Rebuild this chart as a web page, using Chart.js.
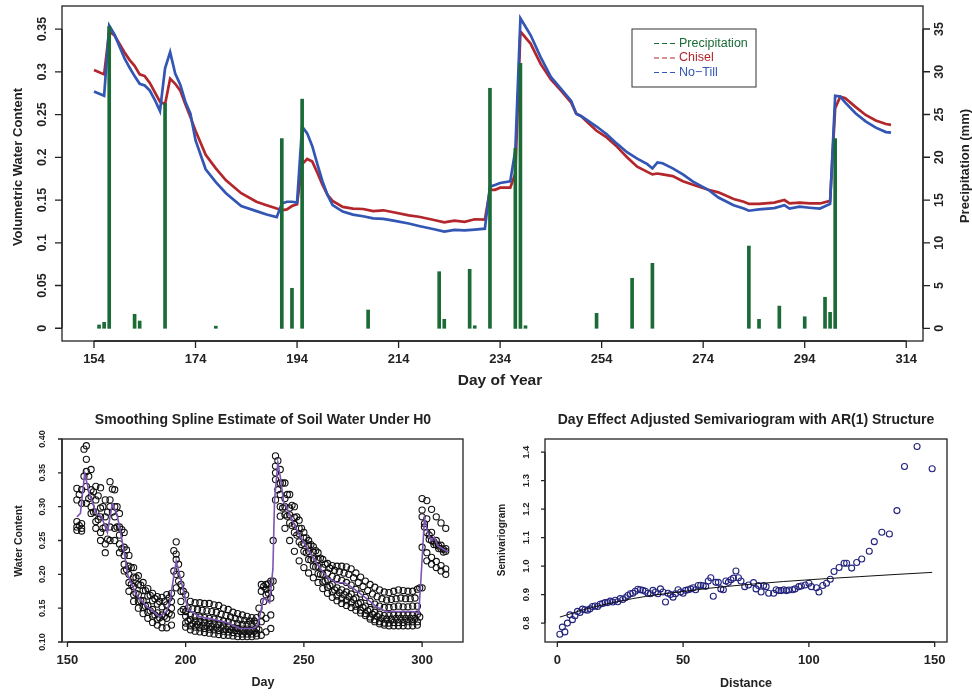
<!DOCTYPE html>
<html>
<head>
<meta charset="utf-8">
<script src="https://cdn.jsdelivr.net/npm/chart.js@4.4.1/dist/chart.umd.min.js"></script>
<style>
  body { margin: 0; background: #fff; }
  #wrap { position: relative; width: 972px; height: 696px; }
  canvas { position: absolute; }
</style>
</head>
<body>
<div id="wrap">
  <canvas id="topChart" width="972" height="395" style="left:0;top:0"></canvas>
  <canvas id="splineChart" width="486" height="301" style="left:0;top:395px"></canvas>
  <canvas id="semiChart" width="486" height="301" style="left:486px;top:395px"></canvas>
</div>
<script>
// ---- top panel: daily water content and rain
const days = [154, 156, 157, 158, 160, 161, 162, 163, 164, 165, 166, 167, 168, 169, 170, 171, 172, 173, 174, 176,
  178, 180, 183, 186, 188, 190, 191, 192, 193, 194, 195, 196, 197, 198, 199, 200, 201, 203, 205, 207,
  209, 211, 213, 216, 218, 221, 223, 225, 227, 229, 231, 232, 233, 234, 236, 237, 238, 240, 242, 244,
  246, 248, 249, 250, 251, 253, 255, 257, 259, 261, 263, 264, 265, 266, 268, 270, 272, 275, 277, 280,
  282, 283, 285, 288, 290, 291, 293, 295, 297, 299, 300, 301, 302, 304, 306, 308, 310, 311];
const chisel = [0.302, 0.297, 0.347, 0.343, 0.323, 0.314, 0.307, 0.297, 0.295, 0.287, 0.276, 0.265, 0.262, 0.292, 0.286, 0.278, 0.262, 0.247, 0.231, 0.203,
  0.187, 0.173, 0.158, 0.148, 0.144, 0.140, 0.138, 0.139, 0.143, 0.145, 0.192, 0.198, 0.195, 0.182, 0.168, 0.156, 0.149, 0.142, 0.140, 0.1395,
  0.137, 0.138, 0.1357, 0.132, 0.1305, 0.1267, 0.124, 0.126, 0.1245, 0.1275, 0.127, 0.162, 0.162, 0.1645, 0.1645, 0.181, 0.347, 0.333, 0.309, 0.291,
  0.278, 0.264, 0.251, 0.248, 0.242, 0.231, 0.2233, 0.2125, 0.200, 0.189, 0.183, 0.180, 0.181, 0.180, 0.178, 0.172, 0.168, 0.162, 0.159, 0.1513,
  0.148, 0.1455, 0.1455, 0.147, 0.150, 0.146, 0.147, 0.146, 0.146, 0.149, 0.2575, 0.271, 0.269, 0.259, 0.2495, 0.243, 0.239, 0.238];
const noTill = [0.277, 0.272, 0.354, 0.344, 0.316, 0.305, 0.295, 0.286, 0.284, 0.278, 0.267, 0.254, 0.304, 0.323, 0.298, 0.285, 0.265, 0.251, 0.220, 0.186,
  0.171, 0.158, 0.143, 0.137, 0.133, 0.130, 0.146, 0.148, 0.148, 0.147, 0.236, 0.228, 0.213, 0.192, 0.172, 0.156, 0.144, 0.1365, 0.133, 0.131,
  0.1285, 0.128, 0.126, 0.1225, 0.1197, 0.1158, 0.113, 0.115, 0.1145, 0.1155, 0.1165, 0.1657, 0.1675, 0.170, 0.172, 0.2086, 0.3626, 0.343, 0.317, 0.294,
  0.280, 0.266, 0.251, 0.248, 0.244, 0.236, 0.227, 0.216, 0.206, 0.1985, 0.192, 0.187, 0.194, 0.193, 0.187, 0.180, 0.1716, 0.162, 0.153, 0.144,
  0.140, 0.1375, 0.139, 0.1405, 0.144, 0.140, 0.1422, 0.141, 0.140, 0.1455, 0.272, 0.271, 0.264, 0.2515, 0.242, 0.2347, 0.2295, 0.2288];
const rainDays = [155, 156, 157, 162, 163, 168, 178, 191, 193, 195, 208, 222, 223, 228, 229, 232, 237, 238, 239, 253,
  260, 264, 283, 285, 289, 294, 298, 299, 300];
const rainMm = [0.39, 0.70, 35.3, 1.64, 0.85, 26.3, 0.25, 22.2, 4.68, 26.8, 2.14, 6.62, 1.05, 6.9, 0.30, 28.07, 21.05, 31.0, 0.30, 1.75,
  5.85, 7.6, 9.62, 1.05, 2.6, 1.35, 3.63, 1.87, 22.2];
const dayTicks = ['154', '174', '194', '214', '234', '254', '274', '294', '314'];
const wcTicks = ['0', '0.05', '0.1', '0.15', '0.2', '0.25', '0.3', '0.35'];
const mmTicks = ['0', '5', '10', '15', '20', '25', '30', '35'];

// ---- bottom left: observations and spline fit
const obsDays = [154, 156, 158, 160, 162, 164, 166, 168, 170, 172, 174, 176, 178, 180, 182, 184, 186, 188, 190, 192,
  194, 196, 198, 200, 202, 204, 206, 208, 210, 212, 214, 216, 218, 220, 222, 224, 226, 228, 230, 232,
  234, 236, 238, 240, 242, 244, 246, 248, 250, 252, 254, 256, 258, 260, 262, 264, 266, 268, 270, 272,
  274, 276, 278, 280, 282, 284, 286, 288, 290, 292, 294, 296, 298, 300, 302, 304, 306, 308, 310];
const obsA = [0.327, 0.325, 0.390, 0.355, 0.330, 0.328, 0.310, 0.337, 0.325, 0.290, 0.262, 0.228, 0.210, 0.198, 0.188, 0.179, 0.172, 0.167, 0.166, 0.170,
  0.172, 0.248, 0.200, 0.170, 0.160, 0.158, 0.158, 0.157, 0.157, 0.155, 0.154, 0.150, 0.148, 0.144, 0.142, 0.140, 0.138, 0.136, 0.136, 0.175,
  0.185, 0.190, 0.375, 0.355, 0.335, 0.318, 0.300, 0.280, 0.262, 0.250, 0.241, 0.232, 0.222, 0.216, 0.213, 0.212, 0.212, 0.211, 0.208, 0.202,
  0.196, 0.190, 0.185, 0.181, 0.177, 0.174, 0.173, 0.175, 0.177, 0.176, 0.175, 0.175, 0.178, 0.312, 0.309, 0.296, 0.285, 0.276, 0.268];
const obsB = [0.310, 0.305, 0.370, 0.325, 0.310, 0.298, 0.285, 0.310, 0.300, 0.270, 0.240, 0.212, 0.196, 0.185, 0.176, 0.168, 0.161, 0.156, 0.152, 0.155,
  0.160, 0.230, 0.185, 0.145, 0.140, 0.138, 0.137, 0.136, 0.135, 0.134, 0.133, 0.131, 0.130, 0.128, 0.127, 0.126, 0.126, 0.126, 0.128, 0.185,
  0.178, 0.180, 0.360, 0.335, 0.312, 0.298, 0.284, 0.268, 0.254, 0.243, 0.233, 0.222, 0.210, 0.202, 0.197, 0.194, 0.191, 0.188, 0.184, 0.178,
  0.171, 0.166, 0.160, 0.156, 0.153, 0.151, 0.151, 0.152, 0.153, 0.152, 0.152, 0.153, 0.153, 0.295, 0.282, 0.262, 0.250, 0.243, 0.238];
const obsC = [0.278, 0.275, 0.352, 0.315, 0.292, 0.285, 0.270, 0.300, 0.285, 0.258, 0.228, 0.200, 0.182, 0.170, 0.161, 0.154, 0.148, 0.143, 0.140, 0.145,
  0.150, 0.222, 0.175, 0.138, 0.133, 0.131, 0.130, 0.129, 0.128, 0.127, 0.126, 0.124, 0.123, 0.121, 0.120, 0.119, 0.119, 0.119, 0.120, 0.140,
  0.170, 0.165, 0.350, 0.318, 0.300, 0.288, 0.274, 0.260, 0.246, 0.234, 0.223, 0.212, 0.200, 0.192, 0.185, 0.180, 0.177, 0.174, 0.171, 0.165,
  0.158, 0.153, 0.148, 0.144, 0.141, 0.139, 0.139, 0.140, 0.140, 0.140, 0.140, 0.140, 0.141, 0.285, 0.262, 0.250, 0.244, 0.238, 0.234];
const obsD = [0.270, 0.268, 0.330, 0.300, 0.278, 0.262, 0.245, 0.270, 0.268, 0.245, 0.215, 0.188, 0.170, 0.160, 0.151, 0.144, 0.138, 0.133, 0.130, 0.135,
  0.140, 0.200, 0.160, 0.128, 0.124, 0.122, 0.121, 0.120, 0.119, 0.118, 0.117, 0.116, 0.115, 0.114, 0.113, 0.112, 0.112, 0.112, 0.113, 0.130,
  0.135, 0.140, 0.340, 0.300, 0.288, 0.276, 0.262, 0.248, 0.234, 0.222, 0.212, 0.201, 0.189, 0.181, 0.174, 0.168, 0.164, 0.161, 0.158, 0.153,
  0.147, 0.142, 0.137, 0.133, 0.130, 0.128, 0.128, 0.129, 0.129, 0.129, 0.130, 0.130, 0.130, 0.240, 0.232, 0.225, 0.219, 0.213, 0.208];
const obsE = [0.265, 0.264, 0.305, 0.290, 0.268, 0.250, 0.232, 0.250, 0.250, 0.232, 0.205, 0.175, 0.160, 0.150, 0.142, 0.135, 0.129, 0.125, 0.121, 0.121,
  0.125, 0.180, 0.145, 0.122, 0.118, 0.116, 0.115, 0.114, 0.113, 0.112, 0.111, 0.110, 0.110, 0.109, 0.108, 0.108, 0.108, 0.108, 0.109, 0.110,
  0.115, 0.120, 0.310, 0.286, 0.268, 0.250, 0.234, 0.220, 0.210, 0.202, 0.195, 0.188, 0.179, 0.172, 0.166, 0.161, 0.157, 0.154, 0.151, 0.147,
  0.143, 0.139, 0.134, 0.130, 0.127, 0.125, 0.124, 0.124, 0.124, 0.124, 0.124, 0.124, 0.125, 0.180, 0.220, 0.215, 0.210, 0.205, 0.200];
const obsDaysOdd = [155, 157, 159, 161, 163, 165, 167, 169, 171, 173, 175, 177, 179, 181, 183, 185, 187, 189, 191, 193,
  195, 197, 199, 201, 203, 205, 207, 209, 211, 213, 215, 217, 219, 221, 223, 225, 227, 229, 231, 233,
  235, 237, 239, 241, 243, 245, 247, 249, 251, 253, 255, 257, 259, 261, 263, 265, 267, 269, 271, 273,
  275, 277, 279, 281, 283, 285, 287, 289, 291, 293, 295, 297, 299, 301, 303, 305, 307, 309];
const obsF = [0.318, 0.385, 0.345, 0.322, 0.316, 0.300, 0.292, 0.326, 0.300, 0.266, 0.236, 0.210, 0.195, 0.184, 0.176, 0.169, 0.164, 0.160, 0.160, 0.165,
  0.235, 0.215, 0.175, 0.150, 0.149, 0.148, 0.147, 0.146, 0.145, 0.144, 0.141, 0.139, 0.137, 0.135, 0.133, 0.132, 0.131, 0.131, 0.150, 0.182,
  0.186, 0.250, 0.368, 0.335, 0.318, 0.302, 0.285, 0.268, 0.254, 0.244, 0.235, 0.224, 0.215, 0.209, 0.206, 0.204, 0.202, 0.200, 0.195, 0.188,
  0.182, 0.176, 0.171, 0.167, 0.164, 0.162, 0.163, 0.164, 0.165, 0.164, 0.164, 0.165, 0.180, 0.275, 0.258, 0.248, 0.242, 0.237];
const obsG = [0.272, 0.345, 0.312, 0.292, 0.281, 0.268, 0.252, 0.292, 0.270, 0.238, 0.207, 0.185, 0.172, 0.161, 0.153, 0.146, 0.140, 0.136, 0.138, 0.142,
  0.205, 0.190, 0.148, 0.131, 0.127, 0.126, 0.125, 0.124, 0.123, 0.122, 0.121, 0.119, 0.118, 0.117, 0.116, 0.115, 0.115, 0.116, 0.118, 0.160,
  0.172, 0.190, 0.325, 0.298, 0.286, 0.272, 0.258, 0.244, 0.232, 0.221, 0.211, 0.200, 0.190, 0.183, 0.177, 0.173, 0.170, 0.167, 0.163, 0.157,
  0.151, 0.146, 0.141, 0.138, 0.135, 0.134, 0.134, 0.135, 0.135, 0.135, 0.135, 0.135, 0.137, 0.270, 0.252, 0.244, 0.238, 0.233];
const splineDays = [154, 155.5, 157.3, 159.4, 162.2, 164.4, 166.9, 169, 171, 173.5, 175.6, 179.1, 183.4, 189, 191.8, 193.2, 196, 198.9, 201, 205.9,
  213, 218, 222.8, 228.4, 230.5, 233, 235.5, 236.9, 237.6, 239, 240.1, 241.4, 243.2, 245.3, 248.1, 252.4, 256.6, 260.1, 263.6, 267.2,
  270.7, 276.3, 280.5, 284.8, 290.4, 296, 298.6, 299.6, 301, 302.4, 303.8, 305.2, 306.6, 311];
const splineVals = [0.285, 0.29, 0.349, 0.318, 0.29, 0.285, 0.262, 0.305, 0.288, 0.243, 0.198, 0.17, 0.153, 0.1375, 0.145, 0.157, 0.22, 0.178, 0.148, 0.1375,
  0.1325, 0.128, 0.12, 0.12, 0.125, 0.165, 0.158, 0.208, 0.31, 0.365, 0.343, 0.308, 0.295, 0.278, 0.258, 0.233, 0.21, 0.195, 0.188, 0.1875,
  0.18, 0.165, 0.1525, 0.145, 0.145, 0.145, 0.1425, 0.198, 0.283, 0.262, 0.25, 0.255, 0.242, 0.233];
const splineXTicks = ['150', '200', '250', '300'];
const splineYTicks = ['0.10', '0.15', '0.20', '0.25', '0.30', '0.35', '0.40'];

// ---- bottom right: semivariogram
const lagDist = [1, 2, 3, 4, 5, 6, 7, 8, 9, 10, 11, 12, 13, 14, 15, 16, 17, 18, 19, 20,
  21, 22, 23, 24, 25, 26, 27, 28, 29, 30, 31, 32, 33, 34, 35, 36, 37, 38, 39, 40,
  41, 42, 43, 44, 45, 46, 47, 48, 49, 50, 51, 52, 53, 54, 55, 56, 57, 58, 59, 60,
  61, 62, 63, 64, 65, 66, 67, 68, 69, 70, 71, 72, 73, 74.5, 76, 78, 79, 80, 81, 82,
  83, 84, 86, 87, 88, 89, 90, 91, 92, 93.5, 94.5, 96, 97, 98.5, 100, 101, 103, 104, 105.5, 107,
  108.5, 110, 112, 114, 115, 117, 119, 121, 124, 126, 129, 132, 135, 138, 143, 149];
const semivar = [0.761, 0.786, 0.769, 0.800, 0.829, 0.812, 0.826, 0.841, 0.837, 0.849, 0.847, 0.845, 0.850, 0.858, 0.860, 0.858, 0.866, 0.869, 0.872, 0.872,
  0.877, 0.874, 0.880, 0.875, 0.886, 0.883, 0.889, 0.897, 0.903, 0.905, 0.912, 0.919, 0.917, 0.915, 0.912, 0.905, 0.903, 0.915, 0.909, 0.903,
  0.920, 0.909, 0.874, 0.905, 0.900, 0.891, 0.903, 0.917, 0.909, 0.905, 0.915, 0.917, 0.920, 0.924, 0.917, 0.932, 0.933, 0.931, 0.929, 0.948,
  0.959, 0.894, 0.943, 0.943, 0.920, 0.917, 0.948, 0.943, 0.952, 0.958, 0.983, 0.959, 0.948, 0.928, 0.934, 0.942, 0.920, 0.932, 0.909, 0.932,
  0.928, 0.905, 0.905, 0.917, 0.914, 0.914, 0.917, 0.914, 0.916, 0.917, 0.920, 0.928, 0.930, 0.934, 0.940, 0.928, 0.924, 0.909, 0.932, 0.940,
  0.954, 0.981, 0.995, 1.010, 1.010, 0.993, 1.013, 1.025, 1.052, 1.086, 1.119, 1.113, 1.195, 1.350, 1.420, 1.342];
const fitDist = [1, 5, 10, 20, 30, 40, 50, 60, 75, 90, 105, 120, 135, 149];
const fitVal = [0.821, 0.832, 0.846, 0.868, 0.886, 0.900, 0.911, 0.922, 0.935, 0.946, 0.955, 0.963, 0.971, 0.978];
const semiXTicks = ['0', '50', '100', '150'];
const semiYTicks = ['0.8', '0.9', '1.0', '1.1', '1.2', '1.3', '1.4'];

const FONT = '"Liberation Sans", Arial, Helvetica, sans-serif';
const INK = '#222';

function pts(xs, ys) {
    return ys.map((y, i) => ({x: xs[i], y: y}));
}

// R-like box, outward ticks, rotated y labels, titles
const rStyle = {
    id: 'rStyle',
    afterDraw(chart, args, o) {
        const ctx = chart.ctx;
        const a = chart.chartArea;
        ctx.save();
        ctx.strokeStyle = INK;
        ctx.fillStyle = INK;
        ctx.lineWidth = 1.3;
        ctx.strokeRect(a.left, a.top, a.right - a.left, a.bottom - a.top);

        o.axes.forEach(ax => {
            const s = chart.scales[ax.id];
            const pos = ax.labels.map(l => s.getPixelForValue(parseFloat(l)));
            ctx.beginPath();
            if (ax.side === 'bottom') {
                ctx.moveTo(pos[0], a.bottom);
                ctx.lineTo(pos[pos.length - 1], a.bottom);
                pos.forEach(p => { ctx.moveTo(p, a.bottom); ctx.lineTo(p, a.bottom + ax.tick); });
            } else {
                const x = ax.side === 'left' ? a.left : a.right;
                const d = ax.side === 'left' ? -ax.tick : ax.tick;
                ctx.moveTo(x, pos[0]);
                ctx.lineTo(x, pos[pos.length - 1]);
                pos.forEach(p => { ctx.moveTo(x, p); ctx.lineTo(x + d, p); });
            }
            ctx.stroke();

            ctx.font = ax.font;
            ctx.textAlign = 'center';
            ctx.textBaseline = 'middle';
            pos.forEach((p, i) => {
                if (ax.side === 'bottom') {
                    ctx.fillText(ax.labels[i], p, a.bottom + ax.gap);
                } else {
                    const x = ax.side === 'left' ? a.left - ax.gap : a.right + ax.gap;
                    ctx.save();
                    ctx.translate(x, p);
                    ctx.rotate(-Math.PI / 2);
                    ctx.fillText(ax.labels[i], 0, 0);
                    ctx.restore();
                }
            });
        });

        o.texts.forEach(t => {
            ctx.save();
            ctx.font = t.font;
            ctx.textAlign = 'center';
            ctx.textBaseline = 'middle';
            ctx.translate(t.x, t.y);
            if (t.rot) ctx.rotate(-Math.PI / 2);
            ctx.fillText(t.text, 0, 0);
            ctx.restore();
        });

        if (o.legend) {
            const L = o.legend;
            ctx.lineWidth = 1;
            ctx.strokeStyle = '#333';
            ctx.strokeRect(L.x, L.y, L.w, L.h);
            ctx.font = L.font;
            ctx.textAlign = 'left';
            chart.data.datasets.forEach((ds, i) => {
                const y = L.y + L.first + i * L.step;
                ctx.strokeStyle = ds.borderColor || ds.backgroundColor;
                ctx.lineWidth = 1.2;
                ctx.setLineDash([5, 3]);
                ctx.beginPath();
                ctx.moveTo(L.x + 22, y);
                ctx.lineTo(L.x + 43, y);
                ctx.stroke();
                ctx.setLineDash([]);
                ctx.fillStyle = ds.borderColor || ds.backgroundColor;
                ctx.fillText(ds.label, L.x + 47, y);
            });
        }
        ctx.restore();
    }
};

Chart.defaults.animation = false;
Chart.defaults.font.family = FONT;

new Chart(document.getElementById('topChart'), {
    type: 'line',
    data: {
        datasets: [{
            type: 'bar',
            label: 'Precipitation',
            data: pts(rainDays, rainMm),
            yAxisID: 'y1',
            backgroundColor: '#1a6b36',
            borderColor: '#1a6b36',
            borderWidth: 0,
            barThickness: 3,
            order: 0
        }, {
            label: 'Chisel',
            data: pts(days, chisel),
            borderColor: '#b3262b',
            borderWidth: 2.7,
            pointRadius: 0,
            order: 2
        }, {
            label: 'No\u2212Till',
            data: pts(days, noTill),
            borderColor: '#3356b5',
            borderWidth: 2.7,
            pointRadius: 0,
            order: 1
        }]
    },
    options: {
        responsive: false,
        layout: { padding: { left: 62, top: 6, right: 49, bottom: 54 } },
        scales: {
            x: { type: 'linear', min: 147.7, max: 317.3, offset: false, display: false },
            y: { type: 'linear', min: -0.0149, max: 0.377, display: false },
            y1: { type: 'linear', position: 'right', min: -1.485, max: 37.69, display: false }
        },
        plugins: {
            legend: { display: false },
            tooltip: { enabled: false },
            rStyle: {
                axes: [
                    { id: 'x', side: 'bottom', labels: dayTicks, tick: 7, gap: 18, font: 'bold 13px ' + FONT },
                    { id: 'y', side: 'left', labels: wcTicks, tick: 7, gap: 19, font: 'bold 12.5px ' + FONT },
                    { id: 'y1', side: 'right', labels: mmTicks, tick: 7, gap: 17, font: 'bold 12.5px ' + FONT }
                ],
                texts: [
                    { text: 'Volumetric Water Content', x: 18, y: 167, rot: true, font: 'bold 13px ' + FONT },
                    { text: 'Precipitation (mm)', x: 965, y: 166, rot: true, font: 'bold 13px ' + FONT },
                    { text: 'Day of Year', x: 500, y: 381, font: 'bold 15.5px ' + FONT }
                ],
                legend: { x: 632, y: 29, w: 124, h: 58, first: 14.5, step: 14.5, font: '12.5px ' + FONT }
            }
        }
    },
    plugins: [rStyle]
});

new Chart(document.getElementById('splineChart'), {
    type: 'scatter',
    data: {
        datasets: [{
            label: 'Smoothing spline',
            data: pts(splineDays, splineVals),
            showLine: true,
            borderColor: '#7d55b2',
            borderWidth: 1.6,
            pointRadius: 0,
            order: 0
        }, {
            label: 'Observed',
            data: [obsA, obsB, obsC, obsD, obsE].flatMap(b => pts(obsDays, b))
                .concat([obsF, obsG].flatMap(b => pts(obsDaysOdd, b))),
            pointRadius: 3.1,
            borderWidth: 1.1,
            borderColor: '#111',
            backgroundColor: 'rgba(0,0,0,0)',
            order: 1
        }]
    },
    options: {
        responsive: false,
        layout: { padding: { left: 62, top: 44, right: 23, bottom: 54 } },
        scales: {
            x: { type: 'linear', min: 147.7, max: 317.3, display: false },
            y: { type: 'linear', min: 0.1, max: 0.4, display: false }
        },
        plugins: {
            legend: { display: false },
            tooltip: { enabled: false },
            rStyle: {
                axes: [
                    { id: 'x', side: 'bottom', labels: splineXTicks, tick: 5, gap: 18, font: 'bold 13px ' + FONT },
                    { id: 'y', side: 'left', labels: splineYTicks, tick: 4, gap: 19.5, font: 'bold 9px ' + FONT }
                ],
                texts: [
                    { text: 'Smoothing Spline Estimate of Soil Water Under H0', x: 263, y: 25, font: 'bold 14px ' + FONT },
                    { text: 'Day', x: 263, y: 288, font: 'bold 12.5px ' + FONT },
                    { text: 'Water Content', x: 19, y: 146, rot: true, font: 'bold 10.5px ' + FONT }
                ]
            }
        }
    },
    plugins: [rStyle]
});

new Chart(document.getElementById('semiChart'), {
    type: 'scatter',
    data: {
        datasets: [{
            label: 'AR(1) fit',
            data: pts(fitDist, fitVal),
            showLine: true,
            cubicInterpolationMode: 'monotone',
            borderColor: '#111',
            borderWidth: 1,
            pointRadius: 0,
            order: 0
        }, {
            label: 'Semivariogram',
            data: pts(lagDist, semivar),
            pointRadius: 3,
            borderWidth: 1.1,
            borderColor: '#23237e',
            backgroundColor: 'rgba(0,0,0,0)',
            order: 1
        }]
    },
    options: {
        responsive: false,
        layout: { padding: { left: 59, top: 44, right: 25, bottom: 54 } },
        scales: {
            x: { type: 'linear', min: -4.9, max: 154.9, display: false },
            y: { type: 'linear', min: 0.7336, max: 1.4464, display: false }
        },
        plugins: {
            legend: { display: false },
            tooltip: { enabled: false },
            rStyle: {
                axes: [
                    { id: 'x', side: 'bottom', labels: semiXTicks, tick: 5, gap: 18, font: 'bold 13px ' + FONT },
                    { id: 'y', side: 'left', labels: semiYTicks, tick: 4, gap: 18.5, font: 'bold 9.5px ' + FONT }
                ],
                texts: [
                    { text: 'Day Effect Adjusted Semivariogram with AR(1) Structure', x: 260, y: 25, font: 'bold 14px ' + FONT },
                    { text: 'Distance', x: 260, y: 289, font: 'bold 12.5px ' + FONT },
                    { text: 'Semivariogram', x: 16, y: 145, rot: true, font: 'bold 10px ' + FONT }
                ]
            }
        }
    },
    plugins: [rStyle]
});
</script>
</body>
</html>
